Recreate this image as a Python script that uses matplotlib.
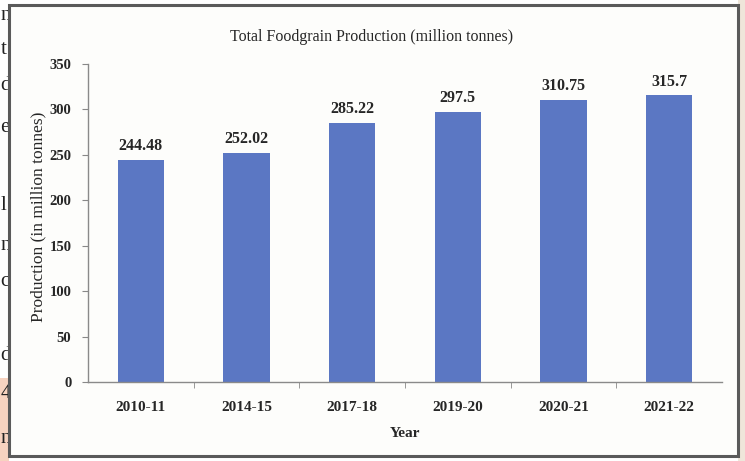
import numpy as np
import matplotlib
matplotlib.use("Agg")
import matplotlib.pyplot as plt
from matplotlib.patches import Rectangle

# Data
years = ["2010-11", "2014-15", "2017-18", "2019-20", "2020-21", "2021-22"]
production = [244.48, 252.02, 285.22, 297.5, 310.75, 315.7]
value_labels = ["244.48", "252.02", "285.22", "297.5", "310.75", "315.7"]
yticks = [0, 50, 100, 150, 200, 250, 300, 350]

# stray letters from the scanned page on the left edge
margin_letters = ["n", "t", "d", "e", "l", "n", "c", "d", "4", "n"]
margin_y = [15, 50, 85, 127, 205, 245, 282, 355, 393, 438]

W, H = 745, 461
plt.rcParams['font.family'] = ['Liberation Serif', 'DejaVu Serif']
txt = "#262626"

fig = plt.figure(figsize=(W / 100, H / 100), dpi=100)
fig.patch.set_facecolor("white")

# peach highlight and beige strip outside the frame
fig.patches.append(Rectangle((0, 0), 9 / W, (H - 378) / H, transform=fig.transFigure,
                             facecolor="#f7d3c0", edgecolor="none", zorder=0))
fig.patches.append(Rectangle((738 / W, 0), (W - 738) / W, 1, transform=fig.transFigure,
                             facecolor="#efe6da", edgecolor="none", zorder=0))

for ch, yy in zip(margin_letters, margin_y):
    fig.text(0.5 / W, 1 - yy / H, ch, ha="left", va="center", fontsize=15,
             color="#222222", zorder=0.2)

# chart frame
fig.patches.append(Rectangle((9 / W, 1 - 456 / H), 729 / W, 451 / H, transform=fig.transFigure,
                             facecolor="#fdfdfb", edgecolor="#5a5a5a", linewidth=2.2, zorder=0.5))

ax = fig.add_axes([88 / W, 1 - 382 / H, 634 / W, 318 / H])
ax.set_zorder(1)
ax.set_facecolor("none")
x = np.arange(len(years))
ax.bar(x, production, width=0.44, color="#5b77c3", zorder=2)

for xi, v, lab in zip(x, production, value_labels):
    ax.annotate(lab, (xi, v), xytext=(0, 4), textcoords="offset points",
                ha="center", va="bottom", fontsize=11.5, fontweight="bold", color=txt)

ax.set_xlim(-0.5, len(years) - 0.5)
ax.set_ylim(0, 350)
ax.set_yticks(yticks)
ax.set_xticks(x)
ax.set_xticklabels(years, fontsize=11, fontweight="bold", color=txt)
ax.set_yticklabels([str(t) for t in yticks], fontsize=10.5, fontweight="bold", color=txt)
ax.set_xticks(np.arange(0.5, len(years) - 0.5, 1), minor=True)
ax.tick_params(axis="x", which="major", length=0, pad=14)
ax.tick_params(axis="x", which="minor", length=4, color="#888888", direction="out")
ax.tick_params(axis="y", length=4, color="#888888", pad=8)

for s in ["top", "right"]:
    ax.spines[s].set_visible(False)
for s in ["left", "bottom"]:
    ax.spines[s].set_color("#8a8a8a")
    ax.spines[s].set_linewidth(1.0)

ax.set_xlabel("Year", fontsize=11, fontweight="bold", color=txt, labelpad=9)
fig.text(38 / W, 1 - 217 / H, "Production (in million tonnes)", rotation=90,
         ha="center", va="center", fontsize=12.5, color=txt, zorder=2)
fig.text(372 / W, 1 - 37 / H, "Total Foodgrain Production (million tonnes)",
         ha="center", va="center", fontsize=11.5, color=txt, zorder=2)

fig.savefig("out.png", dpi=100)
